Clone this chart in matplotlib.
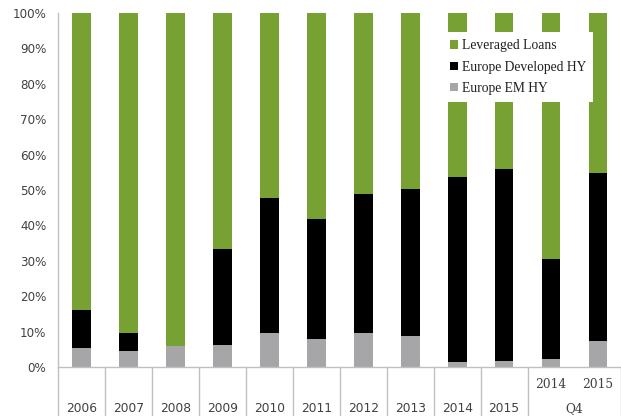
import numpy as np
import matplotlib
matplotlib.use('Agg')
import matplotlib.pyplot as plt
from matplotlib.transforms import blended_transform_factory
from matplotlib.lines import Line2D

# Share of issuance by segment (%)
years = ['2006', '2007', '2008', '2009', '2010', '2011', '2012', '2013',
         '2014', '2015', '2014', '2015']
group_labels = ['', '', '', '', '', '', '', '', '', '', 'Q4', 'Q4']
em_hy = [5.5, 4.6, 5.9, 6.1, 9.5, 8.0, 9.6, 8.8, 1.4, 1.7, 2.4, 7.3]
dev_hy = [10.6, 5.1, 0.0, 27.1, 38.1, 33.9, 39.3, 41.5, 52.3, 54.1, 28.0, 47.6]
lev_loans = [100 - a - b for a, b in zip(em_hy, dev_hy)]

green = '#77a133'
gray = '#a6a6a8'
axis_gray = '#c0c0c0'
text_col = '#404040'

fig = plt.figure(figsize=(6.21, 4.16), dpi=100)
ax = fig.add_axes([58 / 621, 49 / 416, 563.5 / 621, 354 / 416])

x = np.arange(len(years))
w = 0.40
ax.bar(x, em_hy, w, color=gray, label='Europe EM HY')
ax.bar(x, dev_hy, w, bottom=em_hy, color='black', label='Europe Developed HY')
bottom2 = [a + b for a, b in zip(em_hy, dev_hy)]
ax.bar(x, lev_loans, w, bottom=bottom2, color=green, label='Leveraged Loans')

ax.set_xlim(-0.5, len(years) - 0.5)
ax.set_ylim(0, 100)
ax.set_yticks(np.arange(0, 101, 10))
ax.set_yticklabels([f'{v}%' for v in range(0, 101, 10)])
ax.tick_params(axis='y', length=0, pad=8.5, labelsize=8.6, labelcolor=text_col)
ax.set_xticks([])
for s in ['top', 'right']:
    ax.spines[s].set_visible(False)
for s in ['left', 'bottom']:
    ax.spines[s].set_color(axis_gray)
    ax.spines[s].set_linewidth(1.0)

# category boxes below the axis
tr = blended_transform_factory(ax.transData, ax.transAxes)
bottom_y = -49 / 354
seps = [i - 0.5 for i in range(len(years))] + [len(years) - 0.5]
for s in seps:
    if s == len(years) - 1.5:
        continue  # Q4 columns share a box
    ax.add_line(Line2D([s, s], [0, bottom_y], transform=tr, color=axis_gray,
                       lw=1.0, clip_on=False))

lab_y = -42 / 354
sub_y = -17 / 354
for i, yr in enumerate(years):
    if group_labels[i]:
        ax.text(i, sub_y, yr, transform=tr, ha='center', va='center',
                fontsize=8.8, color=text_col, family='DejaVu Serif')
    else:
        ax.text(i, lab_y, yr, transform=tr, ha='center', va='center',
                fontsize=8.8, color=text_col, family='DejaVu Sans')
q4_idx = [i for i, g in enumerate(group_labels) if g]
ax.text(np.mean(q4_idx), lab_y, 'Q4', transform=tr, ha='center', va='center',
        fontsize=8.8, color=text_col, family='DejaVu Serif')

handles, labels = ax.get_legend_handles_labels()
leg = ax.legend(handles[::-1], labels[::-1], loc='upper left',
                bbox_to_anchor=(0.684, 0.945), frameon=True, fancybox=False,
                framealpha=1, facecolor='white', edgecolor='none',
                handlelength=0.55, handleheight=0.55, handletextpad=0.3,
                labelspacing=0.62, borderpad=0.5, borderaxespad=0,
                prop={'family': 'Liberation Serif', 'size': 9.8})
for t in leg.get_texts():
    t.set_color('#202020')

fig.savefig('out.png', dpi=100)
